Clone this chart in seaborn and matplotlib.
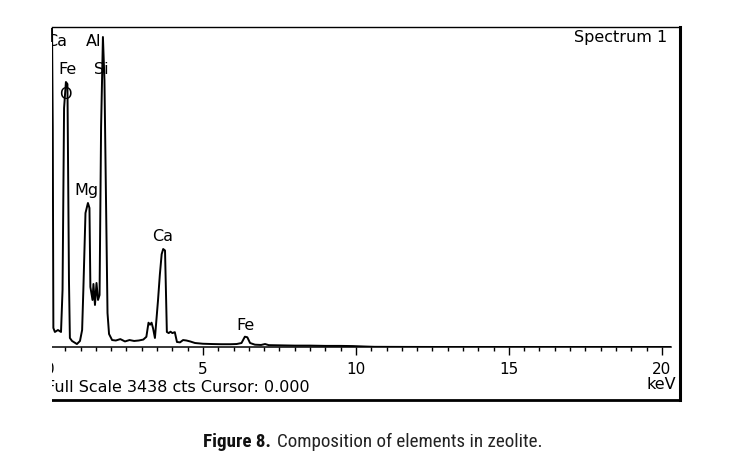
import matplotlib
matplotlib.use("Agg")
import matplotlib.pyplot as plt
from matplotlib import font_manager
from matplotlib.patches import Rectangle
from matplotlib.ticker import MultipleLocator, FixedLocator
import seaborn as sns
import pandas as pd

# ---------------- data ----------------
energy_kev = [0.0, 0.065, 0.09, 0.11, 0.16, 0.26, 0.36, 0.41, 0.46, 0.52,
              0.57, 0.62, 0.65, 0.72, 0.88, 0.98, 1.05, 1.09, 1.16, 1.24,
              1.29, 1.32, 1.39, 1.42, 1.47, 1.52, 1.57, 1.62, 1.67, 1.73,
              1.78, 1.83, 1.88, 1.93, 2.03, 2.15, 2.3, 2.45, 2.6, 2.75,
              2.9, 3.05, 3.15, 3.22, 3.27, 3.32, 3.37, 3.43, 3.53, 3.59,
              3.65, 3.70, 3.76, 3.82, 3.88, 3.94, 4.00, 4.08, 4.15, 4.25,
              4.35, 4.46, 4.58, 4.74, 5.0, 5.3, 5.6, 5.9, 6.1, 6.26,
              6.37, 6.45, 6.54, 6.7, 6.9, 7.03, 7.15, 7.5, 8.0, 8.5,
              9.0, 9.5, 9.9, 10.3, 10.6, 11.5, 13, 15, 17, 19, 20.3]
counts = [3600, 3500, 2371, 205, 162, 183, 162, 614, 2576, 2856,
          2834, 722, 97, 65, 32, 65, 183, 614, 1444, 1552,
          1498, 647, 507, 679, 453, 690, 507, 560, 2371, 3341,
          2877, 1606, 366, 140, 75, 70, 85, 60, 75, 65,
          70, 80, 110, 262, 240, 262, 200, 97, 500, 776,
          1000, 1056, 1040, 162, 150, 165, 150, 160, 54, 50,
          75, 70, 60, 43, 35, 32, 30, 30, 32, 43,
          111, 105, 43, 25, 22, 32, 20, 18, 15, 15,
          12, 12, 10, 5, 2, 1, 0, 0, 0, 0, 0]

peak_labels = ["Ca", "Al", "Fe", "Si", "O", "Mg", "Ca", "Fe"]
peak_label_kev = [0.21, 1.41, 0.56, 1.67, 0.49, 1.20, 3.68, 6.40]
peak_label_cts = [3288, 3288, 2986, 2986, 2717, 1682, 1186, 237]

x_ticks = [0, 5, 10, 15, 20]
x_tick_labels = ["0", "5", "10", "15", "20"]
full_scale = 3438
x_max = 20.3

spectrum_title = "Spectrum 1"
status_text = "Full Scale 3438 cts Cursor: 0.000"
unit_text = "keV"
caption_bold = "Figure 8."
caption_rest = "Composition of elements in zeolite."

# ---------------- style ----------------
sns.set_theme(style="white")
plt.rcParams["font.family"] = ["DejaVu Sans"]
avail = {f.name for f in font_manager.fontManager.ttflist}
cap_font = None
for cand in ["Liberation Sans Narrow", "Roboto Condensed", "Open Sans Condensed", "Roboto"]:
    if cand in avail:
        cap_font = cand
        break
cap_size = 13.7 if cap_font in ("Liberation Sans Narrow", "Roboto Condensed") else 12.5

W, H = 737, 462
fig = plt.figure(figsize=(W / 100, H / 100), dpi=100)
fig.patch.set_facecolor("white")


def px_rect(l, t, r, b):
    return [l / W, 1 - b / H, (r - l) / W, (b - t) / H]


def fx(x):
    return x / W


def fy(y):
    return 1 - y / H


# outer frame (left edge cropped away in the reference)
frame = fig.add_axes(px_rect(52, 27, 679.5, 400))
frame.set_xticks([])
frame.set_yticks([])
frame.set_facecolor("white")
frame.spines["left"].set_visible(False)
frame.spines["top"].set_linewidth(1.0)
frame.spines["right"].set_linewidth(2.2)
frame.spines["bottom"].set_linewidth(2.0)
for s in ["top", "right", "bottom"]:
    frame.spines[s].set_color("black")

# spectrum axes
ax = fig.add_axes(px_rect(50, 28, 671, 347))
ax.set_facecolor("none")
df = pd.DataFrame({"energy": energy_kev, "counts": counts})
sns.lineplot(data=df, x="energy", y="counts", ax=ax, color="black",
             linewidth=1.4, sort=False, estimator=None, errorbar=None)
ax.set_xlim(0, x_max)
ax.set_ylim(0, full_scale)
ax.set_xlabel("")
ax.set_ylabel("")
ax.set_yticks([])
for s in ["left", "right", "top"]:
    ax.spines[s].set_visible(False)
ax.spines["bottom"].set_color("black")
ax.spines["bottom"].set_linewidth(1.1)
ax.xaxis.set_major_locator(FixedLocator(x_ticks))
ax.set_xticklabels(x_tick_labels)
ax.xaxis.set_minor_locator(MultipleLocator(0.5))
ax.tick_params(axis="x", which="major", direction="out", length=5.5, width=1.0,
               color="black", labelsize=11, pad=5.0, labelcolor="black", bottom=True)
ax.tick_params(axis="x", which="minor", direction="out", length=3, width=1.0,
               color="black", bottom=True)

for lab, xk, yc in zip(peak_labels, peak_label_kev, peak_label_cts):
    t = ax.text(xk, yc, lab, ha="center", va="center", fontsize=11.5, color="black",
                clip_on=True)
    t.set_clip_box(frame.bbox)

fig.text(fx(667), fy(42), spectrum_title, ha="right", va="baseline",
         fontsize=11.5, color="black")
st = fig.text(fx(46), fy(392), status_text, ha="left", va="baseline",
              fontsize=11.5, color="black", clip_on=True)
st.set_clip_box(frame.bbox)
fig.text(fx(676), fy(389), unit_text, ha="right", va="baseline",
         fontsize=11.5, color="black")

cap1 = fig.text(fx(203), fy(447), caption_bold, ha="left", va="baseline",
                fontsize=cap_size, fontweight="bold", family=cap_font, color="#111111")
frame.annotate(caption_rest, xy=(1, 0), xycoords=cap1, xytext=(4, 0),
               textcoords="offset points", ha="left", va="bottom",
               fontsize=cap_size, family=cap_font, color="#222222",
               annotation_clip=False)

# the reference screenshot is cropped at x = 52 px: mask everything left of it
mask = Rectangle((0, 0), 52 / W, 420 / H, transform=fig.transFigure,
                 facecolor="white", edgecolor="none", zorder=20)
fig.add_artist(mask)

fig.savefig("out.png", dpi=100, facecolor="white")
